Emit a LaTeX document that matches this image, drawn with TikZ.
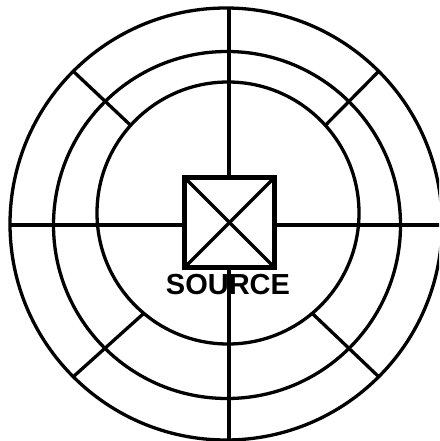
\documentclass[tikz,border=0pt]{standalone}
\usepackage{fontspec}
\setmainfont{Liberation Sans}
\begin{document}
\begin{tikzpicture}[x=1pt,y=-1pt,
  ring/.style={circle,draw,line width=3.3pt,inner sep=0pt,outer sep=0pt},
  wire/.style={line width=3.3pt},
  srcbox/.style={draw,fill=white,line width=4.2pt,minimum size=90pt,inner sep=0pt,outer sep=0pt},
  lbl/.style={font=\bfseries\fontsize{29}{29}\selectfont,inner sep=0pt}]
\useasboundingbox (0,0) rectangle (439,441);
\clip (0,0) rectangle (439,441);
\coordinate (c) at (229,225);
\node[ring,minimum size=432pt] (outer) at (226,224) {};
\node[ring,minimum size=347pt] (middle) at (227,225) {};
\node[ring,minimum size=262pt] (inner) at (228,213) {};
\coordinate (top) at (229,8);
\coordinate (bot) at (229,445);
\coordinate (lft) at (10,225);
\coordinate (rgt) at (445,225);
\draw[wire] (top) -- (bot);
\draw[wire] (lft) -- (rgt);
\draw[wire] (outer.135) -- (inner.138);
\draw[wire] (outer.45) -- (inner.42);
\draw[wire] (outer.225) -- (inner.230);
\draw[wire] (outer.315) -- (inner.310);
\node[srcbox] (src) at (229.5,222.5) {};
\draw[wire] (src.north west) -- (src.south east);
\draw[wire] (src.north east) -- (src.south west);
\node[lbl] (label) at (228,285) {SOURCE};
\end{tikzpicture}
\end{document}
